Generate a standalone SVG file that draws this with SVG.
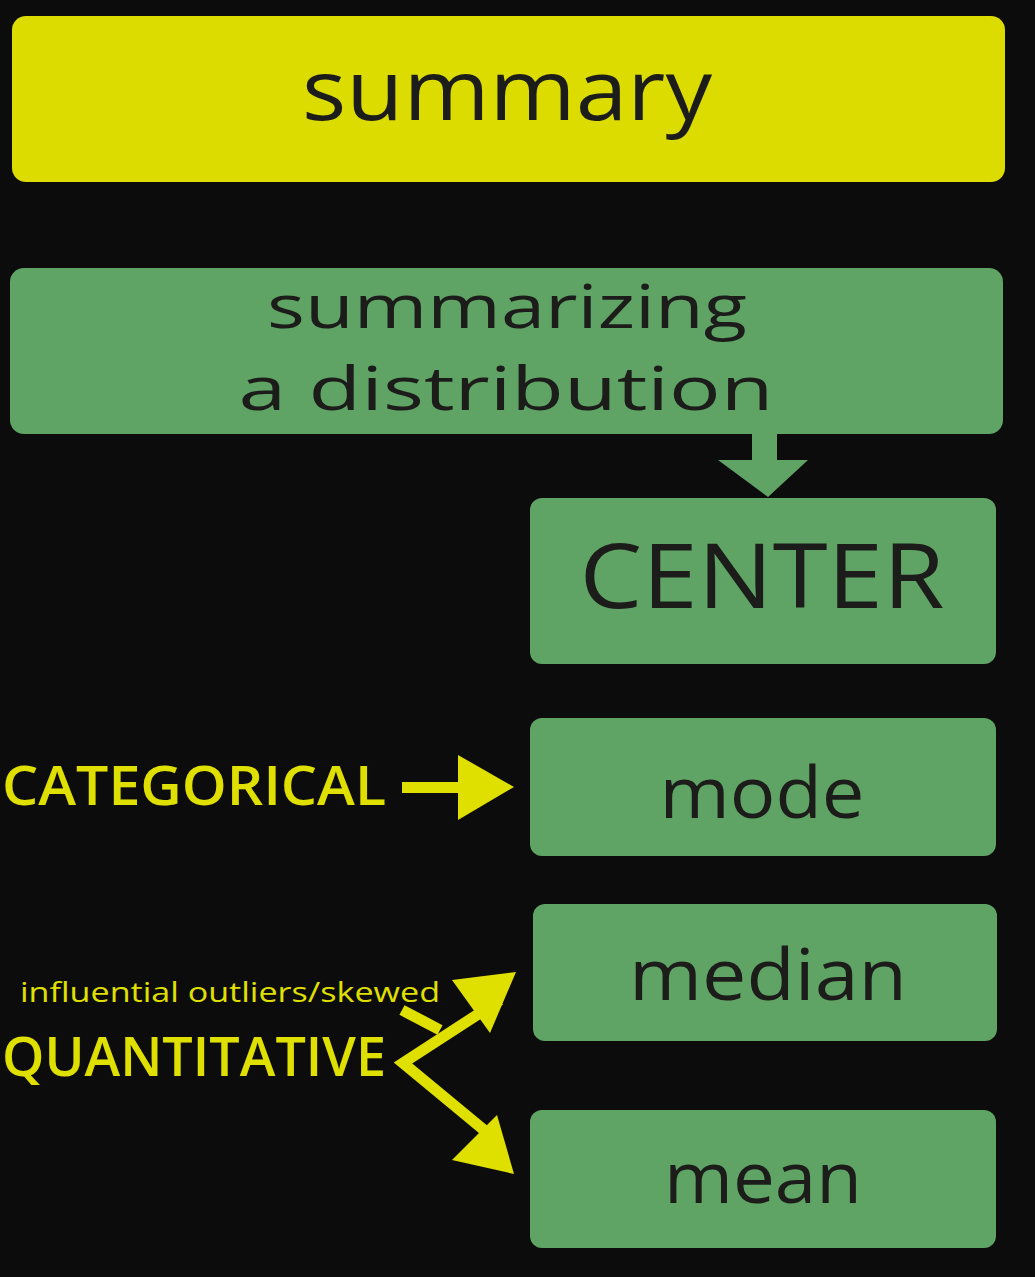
<svg xmlns="http://www.w3.org/2000/svg" width="1035" height="1277" viewBox="0 0 1035 1277">
<style>
.box{fill:#5fa465}
.title{fill:#dcdc00}
.dark{fill:#1c1c1a;font-family:"Open Sans","DejaVu Sans",sans-serif;text-anchor:middle}
.yl{fill:#e0e000;font-family:"Open Sans","DejaVu Sans",sans-serif}
.ya{fill:#e0e000}
.ys{stroke:#e0e000;stroke-width:11;fill:none}
</style>
<rect x="0" y="0" width="1035" height="1277" fill="#0c0c0c"/>
<g id="summary">
<rect class="title" x="12" y="16" width="993" height="166" rx="14"/>
<text class="dark" x="507" y="120" font-size="84" textLength="410" lengthAdjust="spacingAndGlyphs">summary</text>
</g>
<g id="summarizing">
<rect class="box" x="10" y="268" width="993" height="166" rx="14"/>
<text class="dark" x="507" y="328" font-size="60" textLength="480" lengthAdjust="spacingAndGlyphs">summarizing</text>
<text class="dark" x="506" y="410" font-size="60" textLength="535" lengthAdjust="spacingAndGlyphs">a distribution</text>
</g>
<g id="center">
<rect class="box" x="530" y="498" width="466" height="166" rx="12"/>
<text class="dark" x="762" y="608" font-size="90" textLength="365" lengthAdjust="spacingAndGlyphs">CENTER</text>
</g>
<g id="mode">
<rect class="box" x="530" y="718" width="466" height="138" rx="12"/>
<text class="dark" x="762" y="818" font-size="72" textLength="205" lengthAdjust="spacingAndGlyphs">mode</text>
</g>
<g id="median">
<rect class="box" x="533" y="904" width="464" height="137" rx="12"/>
<text class="dark" x="768" y="1000" font-size="72" textLength="278" lengthAdjust="spacingAndGlyphs">median</text>
</g>
<g id="mean">
<rect class="box" x="530" y="1110" width="466" height="138" rx="12"/>
<text class="dark" x="763" y="1203" font-size="72" textLength="198" lengthAdjust="spacingAndGlyphs">mean</text>
</g>
<g id="labels">
<text class="yl" x="2" y="805" font-size="54" font-weight="600" textLength="384" lengthAdjust="spacingAndGlyphs">CATEGORICAL</text>
<text class="yl" x="2" y="1076" font-size="54" font-weight="600" textLength="384" lengthAdjust="spacingAndGlyphs">QUANTITATIVE</text>
<text class="yl" x="20" y="1002" font-size="28" textLength="420" lengthAdjust="spacingAndGlyphs">influential outliers/skewed</text>
</g>
<g id="connectors">
<path fill="#5fa465" d="M752,432 L777,432 L777,460 L808,460 L768,497 L718,460 L752,460 Z"/>
<rect class="ya" x="402" y="782" width="60" height="11"/>
<path class="ya" d="M458,755 L514,787 L458,820 Z"/>
<path class="ys" d="M500,1000 L403,1063 L490,1135"/>
<path class="ys" d="M402,1010 L440,1030"/>
<path class="ya" d="M452,980 L516,972 L490,1033 Z"/>
<path class="ya" d="M497,1115 L514,1174 L452,1160 Z"/>
</g>
</svg>
